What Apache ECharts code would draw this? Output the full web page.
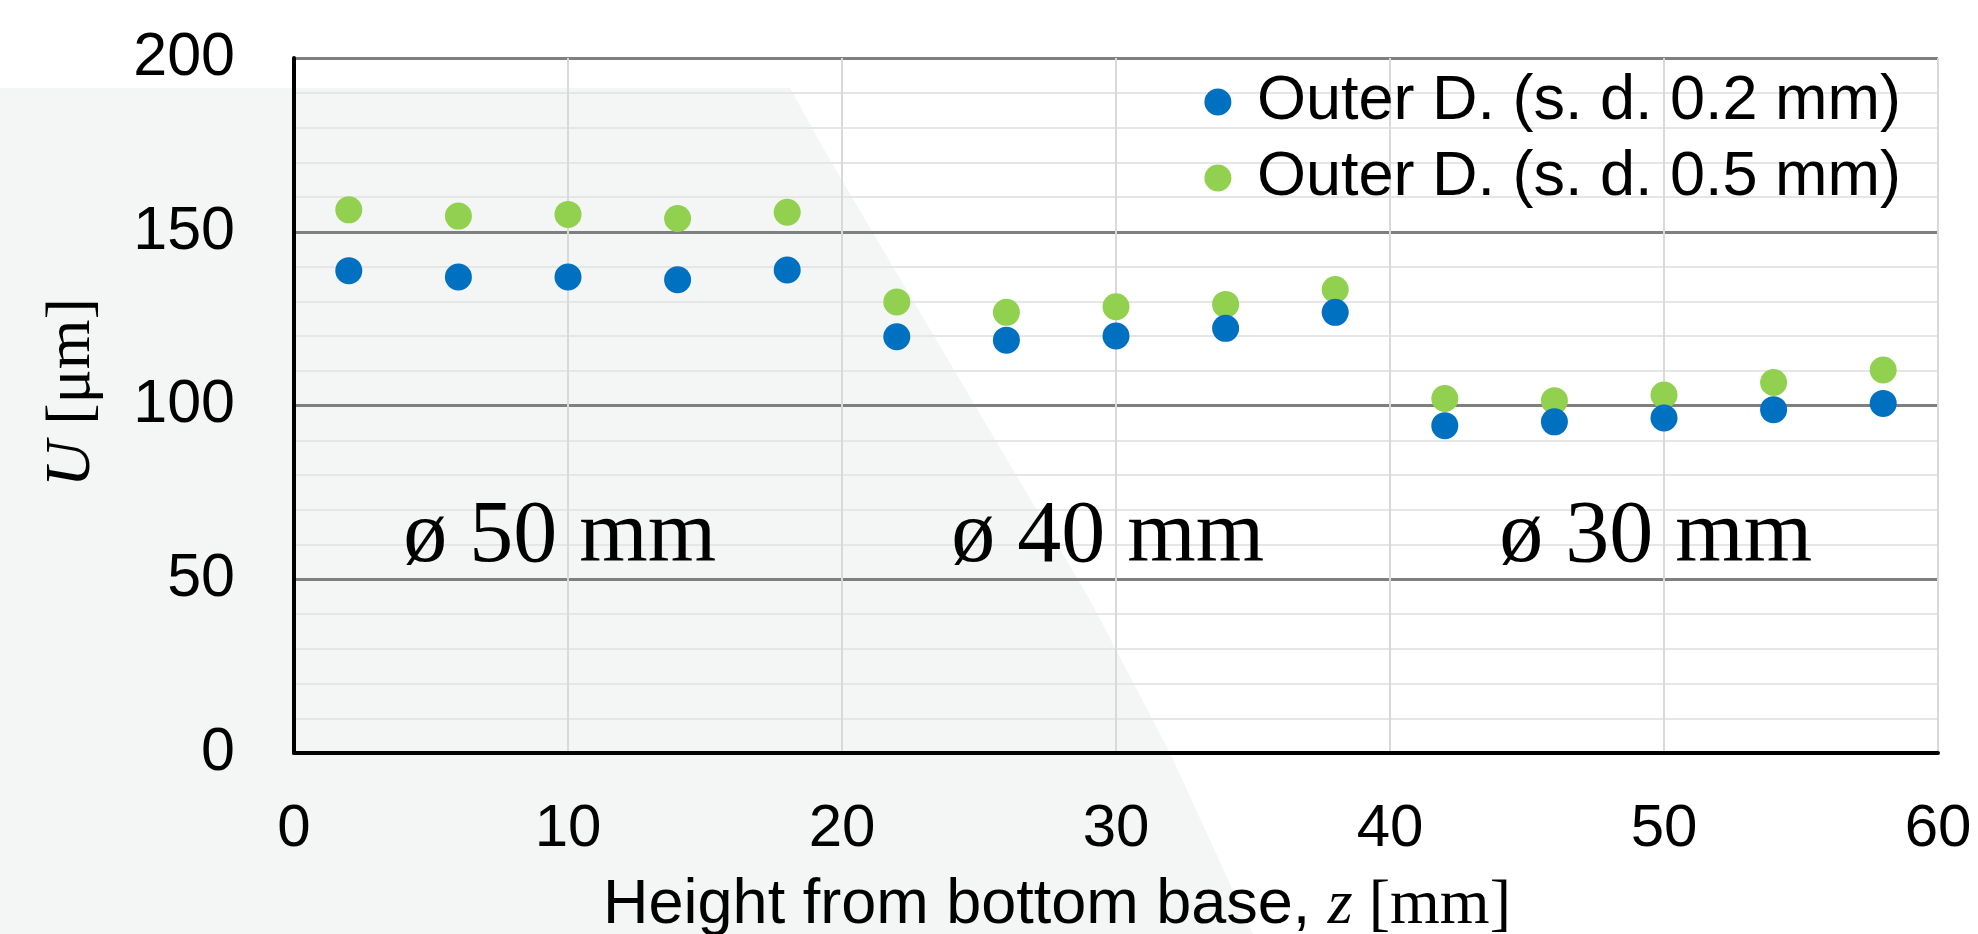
<!DOCTYPE html>
<html>
<head>
<meta charset="utf-8">
<title>Outer diameter deviation U vs height</title>
<script src="https://cdn.jsdelivr.net/npm/echarts@6/dist/echarts.min.js"></script>
<style>
  html, body { margin: 0; padding: 0; background: #ffffff; }
  #chart { width: 1978px; height: 934px; }
</style>
</head>
<body>
<div id="chart"></div>
<script>
// Measurement heights along the part, z [mm]
const heights = [2, 6, 10, 14, 18, 22, 26, 30, 34, 38, 42, 46, 50, 54, 58];

// Deviation U [µm] for each sampling distance
const seriesNames = ['Outer D. (s. d. 0.2 mm)', 'Outer D. (s. d. 0.5 mm)'];
const uSd02 = [138.8, 137.0, 137.0, 136.2, 139.0, 119.8, 118.8, 120.0, 122.2, 126.8, 94.2, 95.3, 96.4, 98.8, 100.6];
const uSd05 = [156.3, 154.5, 155.0, 153.8, 155.6, 129.8, 126.8, 128.4, 129.1, 133.4, 102.0, 101.4, 103.0, 106.6, 110.2];

// Section annotations (diameter of each stepped section)
const sectionLabels = ['ø 50 mm', 'ø 40 mm', 'ø 30 mm'];
const sectionX = [9.7, 29.7, 49.7];
const sectionY = 62;

// Axis ranges and tick steps
const xRange = [0, 60], xStep = 10;
const yRange = [0, 200], yStep = 50;

const BLUE = '#0070C0';
const GREEN = '#92D050';
const SANS = '"Liberation Sans", Arial, sans-serif';
const SERIF = '"Liberation Serif", "DejaVu Serif", serif';

const chart = echarts.init(document.getElementById('chart'), null, { renderer: 'canvas' });

const toPairs = (xs, ys) => xs.map((x, i) => [x, ys[i]]);

const option = {
  animation: false,
  backgroundColor: '#ffffff',
  graphic: [{
    // light backdrop panel behind the left part of the plot
    type: 'polygon',
    z: -100,
    silent: true,
    shape: { points: [[0, 88], [790, 88], [830, 160], [1090, 600], [1170, 753], [1253, 934], [0, 934]] },
    style: { fill: '#f4f6f5' }
  }],
  grid: {
    left: 294, right: 40, top: 58, bottom: 181,
    containLabel: false,
    outerBoundsMode: 'none'
  },
  legend: {
    data: seriesNames,
    orient: 'vertical',
    right: 77,
    top: 64,
    padding: 0,
    itemGap: 0,
    itemWidth: 28,
    itemHeight: 27,
    icon: 'circle',
    align: 'left',
    selectedMode: false,
    itemStyle: { opacity: 1 },
    textStyle: {
      fontFamily: SANS,
      fontSize: 63,
      color: '#000000',
      lineHeight: 76,
      padding: [0, 0, 0, 20]
    }
  },
  xAxis: {
    type: 'value',
    min: xRange[0], max: xRange[1], interval: xStep,
    axisLine: { show: true, onZero: false, lineStyle: { color: '#000000', width: 4 } },
    axisTick: { show: false },
    axisLabel: {
      fontFamily: SANS, fontSize: 60, color: '#000000', margin: 46,
      showMinLabel: true, showMaxLabel: true
    },
    splitLine: { show: true, lineStyle: { color: '#d9d9d9', width: 2 } },
    name: '{t|Height from bottom base, }{i|z}{s| [mm]}',
    nameLocation: 'middle',
    nameGap: 121,
    nameTextStyle: {
      padding: [0, 118, 0, 0],
      rich: {
        t: { fontFamily: SANS, fontSize: 63, color: '#000000' },
        i: { fontFamily: SERIF, fontStyle: 'italic', fontSize: 64, color: '#000000' },
        s: { fontFamily: SERIF, fontSize: 64, color: '#000000' }
      }
    }
  },
  yAxis: {
    type: 'value',
    min: yRange[0], max: yRange[1], interval: yStep,
    axisLine: { show: true, onZero: false, lineStyle: { color: '#000000', width: 4 } },
    axisTick: { show: false },
    minorTick: { show: false, splitNumber: 5 },
    axisLabel: {
      fontFamily: SANS, fontSize: 61, color: '#000000', margin: 59,
      showMinLabel: true, showMaxLabel: true
    },
    splitLine: { show: true, lineStyle: { color: '#7f7f7f', width: 3 } },
    minorSplitLine: { show: true, lineStyle: { color: '#e6e6e6', width: 2 } },
    name: '{i|U}{s| [μm]}',
    nameLocation: 'middle',
    nameRotate: 90,
    nameGap: 190,
    nameTextStyle: {
      padding: [0, 0, 0, 26],
      rich: {
        i: { fontFamily: SERIF, fontStyle: 'italic', fontSize: 64, color: '#000000' },
        s: { fontFamily: SERIF, fontSize: 64, color: '#000000' }
      }
    }
  },
  series: [
    {
      name: seriesNames[1],
      type: 'scatter',
      z: 3,
      symbol: 'circle',
      symbolSize: 27,
      itemStyle: { color: GREEN, opacity: 1 },
      emphasis: { disabled: true },
      data: toPairs(heights, uSd05)
    },
    {
      name: seriesNames[0],
      type: 'scatter',
      z: 4,
      symbol: 'circle',
      symbolSize: 27,
      itemStyle: { color: BLUE, opacity: 1 },
      emphasis: { disabled: true },
      data: toPairs(heights, uSd02),
      markPoint: {
        silent: true,
        symbol: 'circle',
        symbolSize: 0,
        itemStyle: { color: 'rgba(0,0,0,0)' },
        label: {
          show: true,
          position: 'inside',
          fontFamily: SERIF,
          fontSize: 88,
          color: '#000000',
          formatter: (p) => p.name
        },
        data: sectionLabels.map((name, i) => ({ name, coord: [sectionX[i], sectionY] }))
      }
    }
  ]
};

chart.setOption(option);
</script>
</body>
</html>
